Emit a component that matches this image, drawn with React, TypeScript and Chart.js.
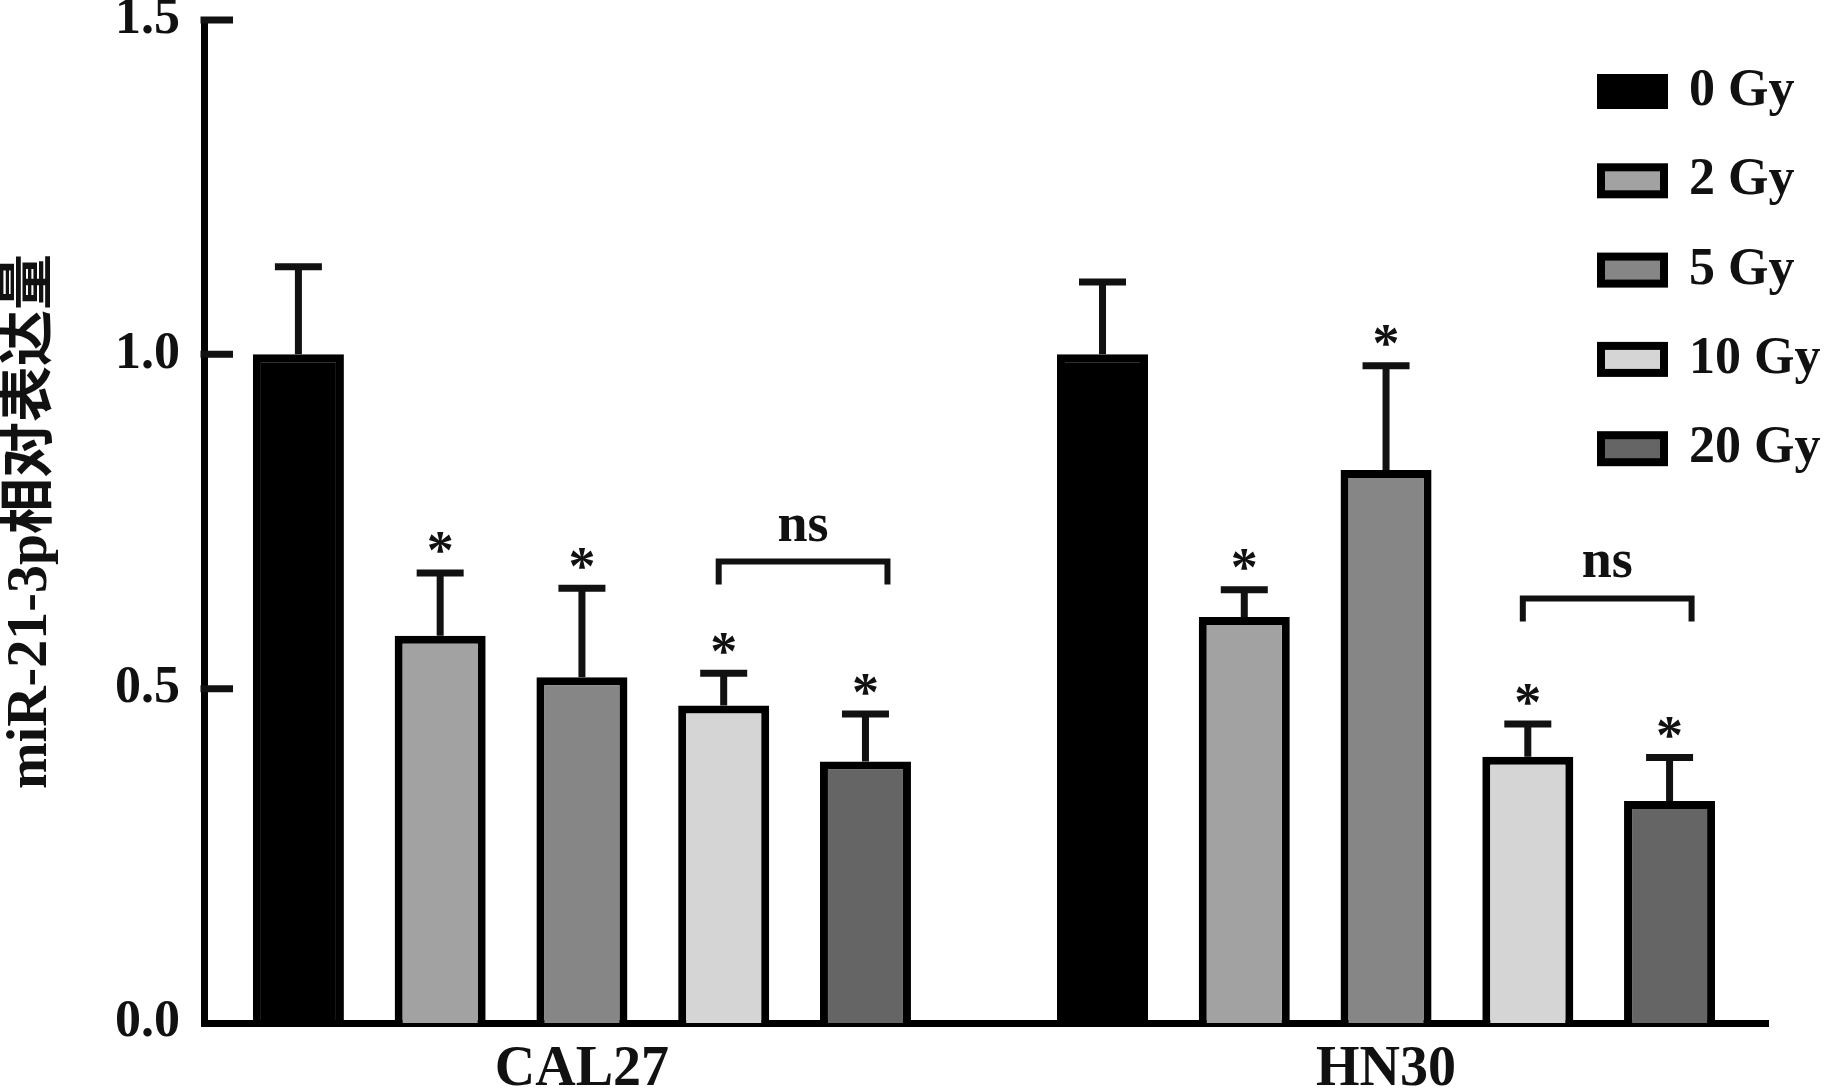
import { useEffect, useRef } from 'react';
import { Chart, registerables, Plugin } from 'chart.js';

Chart.register(...registerables);

const SERIF = '"Liberation Serif", "Noto Sans CJK SC", serif';

const groups = ['CAL27', 'HN30'];
const doses = ['0 Gy', '2 Gy', '5 Gy', '10 Gy', '20 Gy'];
const doseColors = ['#000000', '#a2a2a2', '#868686', '#d5d5d5', '#656565'];

// relative expression (mean) per dose
const cal27Means = [1.0, 0.579, 0.517, 0.475, 0.391];
const hn30Means = [1.0, 0.607, 0.827, 0.398, 0.332];
// upper error bar (SD)
const cal27Errors = [0.131, 0.094, 0.133, 0.048, 0.071];
const hn30Errors = [0.108, 0.041, 0.156, 0.049, 0.065];
// * = significant vs 0 Gy
const cal27Stars = [false, true, true, true, true];
const hn30Stars = [false, true, true, true, true];

// "ns" brackets between 10 Gy and 20 Gy
const nsGroup = [0, 1];
const nsFrom = [3, 3];
const nsTo = [4, 4];
const nsLevel = [0.69, 0.635];

const yTicks = [0, 0.5, 1.0, 1.5];

const errorBars: Plugin<'bar'> = {
  id: 'errorBars',
  afterDatasetsDraw(chart) {
    const { ctx } = chart;
    const y = chart.scales.y;
    ctx.save();
    ctx.strokeStyle = '#111';
    ctx.fillStyle = '#111';
    ctx.lineWidth = 7;
    chart.data.datasets.forEach((ds: any, i) => {
      const meta = chart.getDatasetMeta(i);
      meta.data.forEach((bar: any, j) => {
        const mean = (ds.data[j] as any).y;
        const top = y.getPixelForValue(mean + ds.errors[j]);
        ctx.beginPath();
        ctx.moveTo(bar.x, bar.y);
        ctx.lineTo(bar.x, top);
        ctx.moveTo(bar.x - 23.5, top);
        ctx.lineTo(bar.x + 23.5, top);
        ctx.stroke();
        if (ds.stars[j]) {
          ctx.font = `bold 54px ${SERIF}`;
          ctx.textAlign = 'center';
          ctx.textBaseline = 'alphabetic';
          const m = ctx.measureText('*');
          const cy = top - 30;
          ctx.fillText('*', bar.x, cy + (m.actualBoundingBoxAscent - m.actualBoundingBoxDescent) / 2);
        }
      });
    });

    // ns brackets
    ctx.lineWidth = 6;
    nsGroup.forEach((g, k) => {
      const a: any = chart.getDatasetMeta(nsFrom[k]).data[g];
      const b: any = chart.getDatasetMeta(nsTo[k]).data[g];
      const by = y.getPixelForValue(nsLevel[k]);
      const left = a.x - 5;
      const right = b.x + 22;
      ctx.beginPath();
      ctx.moveTo(left, by + 23);
      ctx.lineTo(left, by);
      ctx.lineTo(right, by);
      ctx.lineTo(right, by + 23);
      ctx.stroke();
      ctx.font = `bold 54px ${SERIF}`;
      ctx.textAlign = 'center';
      ctx.textBaseline = 'alphabetic';
      ctx.fillText('ns', (left + right) / 2, by - 21);
    });
    ctx.restore();
  },
};

// tick marks pointing into the plot, and the legend on the upper right
const axisExtras: Plugin<'bar'> = {
  id: 'axisExtras',
  afterDraw(chart) {
    const { ctx, chartArea } = chart;
    const y = chart.scales.y;
    ctx.save();
    ctx.strokeStyle = '#111';
    ctx.lineWidth = 7;
    y.ticks.forEach((t) => {
      if (t.value === 0) return;
      const py = y.getPixelForValue(t.value);
      ctx.beginPath();
      ctx.moveTo(chartArea.left - 3.5, py);
      ctx.lineTo(chartArea.left + 29, py);
      ctx.stroke();
    });

    chart.data.datasets.forEach((ds: any, i) => {
      const cy = 91.5 + i * 89.3;
      ctx.fillStyle = ds.backgroundColor;
      ctx.strokeStyle = '#000';
      ctx.lineWidth = 8;
      ctx.fillRect(1601, cy - 13.5, 63, 27);
      ctx.strokeRect(1601, cy - 13.5, 63, 27);
      ctx.fillStyle = '#111';
      ctx.font = `bold 52px ${SERIF}`;
      ctx.textAlign = 'left';
      ctx.textBaseline = 'middle';
      ctx.fillText(ds.label, 1689, cy);
    });
    ctx.restore();
  },
};

export default function App() {
  const canvasRef = useRef<HTMLCanvasElement>(null);

  useEffect(() => {
    if (!canvasRef.current) return;

    const datasets = doses.map((d, i) => ({
      label: d,
      data: [
        { x: 0, y: cal27Means[i] },
        { x: 1, y: hn30Means[i] },
      ],
      errors: [cal27Errors[i], hn30Errors[i]],
      stars: [cal27Stars[i], hn30Stars[i]],
      backgroundColor: doseColors[i],
      borderColor: '#000',
      borderWidth: 8,
      categoryPercentage: 0.8815,
      barPercentage: 0.642,
    }));

    const chart = new Chart(canvasRef.current, {
      type: 'bar',
      data: { datasets } as any,
      options: {
        responsive: true,
        maintainAspectRatio: false,
        animation: false,
        layout: { padding: { top: 20, right: 64, left: 0, bottom: 0 } },
        plugins: {
          legend: { display: false },
          tooltip: { enabled: false },
        },
        scales: {
          x: {
            type: 'linear',
            offset: false,
            min: -0.47,
            max: 1.475,
            afterBuildTicks: (s: any) => {
              s.ticks = groups.map((_, i) => ({ value: i }));
            },
            afterFit: (s: any) => {
              s.height = 68;
            },
            ticks: {
              callback: (v: any) => groups[v] ?? '',
              color: '#111',
              padding: 12,
              font: { family: SERIF, size: 56, weight: 'bold', lineHeight: 1 },
            },
            grid: { display: false, offset: false },
            border: { display: true, color: '#000', width: 7 },
          },
          y: {
            min: 0,
            max: 1.5,
            afterBuildTicks: (s: any) => {
              s.ticks = yTicks.map((v) => ({ value: v }));
            },
            afterFit: (s: any) => {
              s.width = 204;
              s.paddingTop = 0;
              s.paddingBottom = 0;
            },
            ticks: {
              callback: (v: any) => Number(v).toFixed(1),
              color: '#111',
              padding: 16,
              font: { family: SERIF, size: 52, weight: 'bold', lineHeight: 0.8 },
            },
            grid: { display: false },
            border: { display: true, color: '#000', width: 7 },
            title: {
              display: true,
              text: 'miR-21-3p相对表达量',
              color: '#111',
              padding: { top: 1, bottom: 0 },
              font: { family: SERIF, size: 56, weight: 'bold', lineHeight: 1.1 },
            },
          },
        },
      } as any,
      plugins: [errorBars, axisExtras],
    });

    return () => {
      chart.destroy();
    };
  }, []);

  return (
    <div style={{ position: 'absolute', left: 0, top: 0, width: 1832, height: 1091, background: '#fff' }}>
      <canvas ref={canvasRef} />
    </div>
  );
}
